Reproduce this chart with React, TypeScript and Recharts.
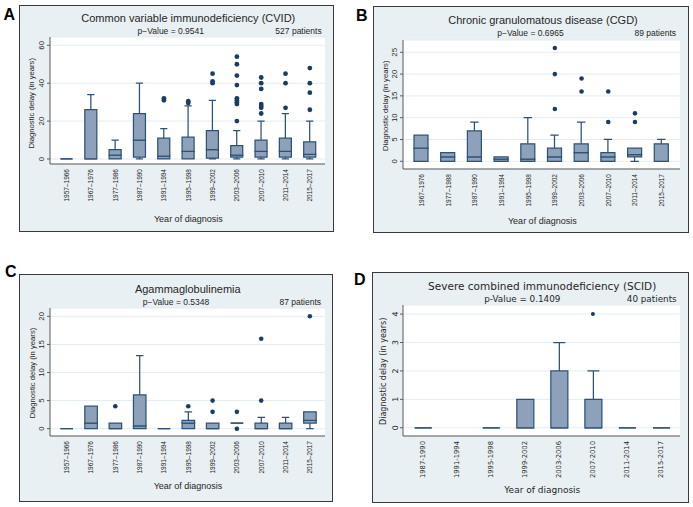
import React from 'react';
import { ComposedChart, Bar, Line, XAxis, YAxis, CartesianGrid } from 'recharts';

// ---------- Panel A: CVID ----------
const cvidCategories = ['1957–1966', '1967–1976', '1977–1986', '1987–1990', '1991–1994', '1995–1998', '1999–2002', '2003–2006', '2007–2010', '2011–2014', '2015–2017'];
const cvidLowWhisker = [0, 0, 0, 0, 0, 0, 0, 0, 0, 0, 0];
const cvidQ1 = [0, 0, 0, 1, 0, 0, 0.5, 1, 1, 1, 1];
const cvidMedian = [0, 0, 2, 10, 1.5, 4, 5, 2, 4, 4, 2.5];
const cvidQ3 = [0, 26, 5, 24, 11, 11.5, 15, 7, 10, 11, 9];
const cvidHighWhisker = [0, 34, 10, 40, 16, 28, 31, 15, 20, 24, 20];
const cvidOutliers = [[], [], [], [], [31, 32], [29.5, 30.5], [40, 41, 45], [20, 29, 30, 31, 32, 39, 44, 50, 54], [24, 27, 28, 29, 37, 40, 43], [27, 40, 45], [26, 35, 40, 48]];
const cvidTicks = [0, 20, 40, 60];

// ---------- Panel B: CGD ----------
const cgdCategories = ['1967–1976', '1977–1988', '1987–1990', '1991–1994', '1995–1998', '1999–2002', '2003–2006', '2007–2010', '2011–2014', '2015–2017'];
const cgdLowWhisker = [0, 0, 0, 0, 0, 0, 0, 0, 0, 0];
const cgdQ1 = [0, 0, 0, 0, 0, 0, 0, 0, 1, 0];
const cgdMedian = [3, 1, 1, 0.5, 0.5, 1, 2, 1, 1.5, 0];
const cgdQ3 = [6, 2, 7, 1, 4, 3, 4, 2, 3, 4];
const cgdHighWhisker = [6, 2, 9, 1, 10, 6, 9, 5, 3, 5];
const cgdOutliers = [[], [], [], [], [], [12, 20, 26], [16, 19], [9, 16], [9, 11], []];
const cgdTicks = [0, 5, 10, 15, 20, 25];

// ---------- Panel C: Agammaglobulinemia ----------
const agamCategories = ['1957–1966', '1967–1976', '1977–1986', '1987–1990', '1991–1994', '1995–1998', '1999–2002', '2003–2006', '2007–2010', '2011–2014', '2015–2017'];
const agamLowWhisker = [0, 0, 0, 0, 0, 0, 0, 1, 0, 0, 0];
const agamQ1 = [0, 0, 0, 0, 0, 0, 0, 1, 0, 0, 1];
const agamMedian = [0, 1, 0, 0.5, 0, 1, 0, 1, 0, 0, 1.5];
const agamQ3 = [0, 4, 1, 6, 0, 1.5, 1, 1, 1, 1, 3];
const agamHighWhisker = [0, 4, 1, 13, 0, 3, 1, 1, 2, 2, 3];
const agamOutliers = [[], [], [4], [], [], [4], [3, 5], [0, 3], [5, 16], [], [20]];
const agamTicks = [0, 5, 10, 15, 20];

// ---------- Panel D: SCID ----------
const scidCategories = ['1987-1990', '1991-1994', '1995-1998', '1999-2002', '2003-2006', '2007-2010', '2011-2014', '2015-2017'];
const scidLowWhisker = [0, null, 0, 0, 0, 0, 0, 0];
const scidQ1 = [0, null, 0, 0, 0, 0, 0, 0];
const scidMedian = [0, null, 0, 0, 0, 0, 0, 0];
const scidQ3 = [0, null, 0, 1, 2, 1, 0, 0];
const scidHighWhisker = [0, null, 0, 1, 3, 2, 0, 0];
const scidOutliers = [[], [], [], [], [], [4], [], []];
const scidTicks = [0, 1, 2, 3, 4];

const BOX_FILL = '#8da2ba';
const BOX_STROKE = '#2e5276';
const DOT_FILL = '#1b3d62';
const AXIS = '#5a5a5a';
const GRID = '#e4ecf1';
const FRAME_BG = '#e9f0f3';
const TEXT = '#262626';
const SANS = '"Liberation Sans", Arial, sans-serif';
const DEJAVU = '"DejaVu Sans", sans-serif';

function buildRows(cats: string[], lw: any[], q1: any[], med: any[], q3: any[], hw: any[], outs: number[][]) {
  return cats.map((cat, i) => {
    const has = q1[i] !== null && q1[i] !== undefined;
    const row: any = { cat, has };
    row.base = has ? lw[i] : 0;
    row.lw = has ? q1[i] - lw[i] : 0;
    row.lb = has ? med[i] - q1[i] : 0;
    row.ub = has ? q3[i] - med[i] : 0;
    row.uw = has ? hw[i] - q3[i] : 0;
    (outs[i] || []).forEach((v, k) => {
      row['o' + k] = v;
    });
    return row;
  });
}

const nullShape = () => <g />;

const boxShape = (props: any) => {
  const { x, y, width, height, payload } = props;
  if (!payload || !payload.has || typeof y !== 'number') return <g />;
  const h = Math.max(0, height || 0);
  const d = `M${x},${y}h${width}v${h}h${-width}Z`;
  return <path d={d} fill={BOX_FILL} stroke={BOX_STROKE} strokeWidth={1.25} />;
};

const makeLowWhisker = (capRatio: number) => (props: any) => {
  const { x, y, width, height, payload } = props;
  if (!payload || !payload.has || !(height > 0.3)) return <g />;
  const cx = x + width / 2;
  const cw = width * capRatio;
  return (
    <g>
      <line x1={cx} x2={cx} y1={y} y2={y + height} stroke={BOX_STROKE} strokeWidth={1.25} />
      <line x1={cx - cw / 2} x2={cx + cw / 2} y1={y + height} y2={y + height} stroke={BOX_STROKE} strokeWidth={1.25} />
    </g>
  );
};

const makeHighWhisker = (capRatio: number) => (props: any) => {
  const { x, y, width, height, payload } = props;
  if (!payload || !payload.has || !(height > 0.3)) return <g />;
  const cx = x + width / 2;
  const cw = width * capRatio;
  return (
    <g>
      <line x1={cx} x2={cx} y1={y} y2={y + height} stroke={BOX_STROKE} strokeWidth={1.25} />
      <line x1={cx - cw / 2} x2={cx + cw / 2} y1={y} y2={y} stroke={BOX_STROKE} strokeWidth={1.25} />
    </g>
  );
};

const makeDot = (r: number) => (props: any) => {
  const { cx, cy, index, dataKey } = props;
  const k = `${dataKey}-${index}`;
  if (typeof cy !== 'number' || isNaN(cy) || typeof cx !== 'number') return <g key={k} />;
  return <circle key={k} cx={cx} cy={cy} r={r} fill={DOT_FILL} stroke="none" />;
};

const makeXTick = (fontFamily: string, fontSize: number) => (props: any) => {
  const { x, y, payload } = props;
  const ty = y + 5;
  return (
    <text x={x} y={ty} transform={`rotate(-90 ${x} ${ty})`} textAnchor="end" dominantBaseline="central" fontSize={fontSize} fontFamily={fontFamily} fill={TEXT}>
      {payload.value}
    </text>
  );
};

const makeYTick = (fontFamily: string, fontSize: number, off: number) => (props: any) => {
  const { x, y, payload } = props;
  const tx = x - off;
  return (
    <text x={tx} y={y} transform={`rotate(-90 ${tx} ${y})`} textAnchor="middle" dominantBaseline="central" fontSize={fontSize} fontFamily={fontFamily} fill={TEXT}>
      {payload.value}
    </text>
  );
};

type PanelCfg = {
  left: number; top: number; width: number; height: number;
  mTop: number; mRight: number; yW: number; xH: number;
  domain: [number, number]; ticks: number[]; padL: number; padR: number;
  barSize: number; capRatio: number; dotR: number; rows: any[]; nOut: number;
  font: string; xFont: number; yFont: number; yOff: number;
};

function Panel({ c }: { c: PanelCfg }) {
  const lowW = makeLowWhisker(c.capRatio);
  const highW = makeHighWhisker(c.capRatio);
  const dot = makeDot(c.dotR);
  const outKeys = Array.from({ length: c.nOut }, (_, k) => 'o' + k);
  return (
    <div style={{ position: 'absolute', left: c.left, top: c.top, width: c.width, height: c.height, background: FRAME_BG, boxShadow: 'inset 0 0 0 1px #3a3a3a' }}>
      <ComposedChart width={c.width} height={c.height} data={c.rows} margin={{ top: c.mTop, right: c.mRight, bottom: 0, left: 0 }}>
        <CartesianGrid horizontal vertical={false} stroke={GRID} fill="#ffffff" />
        <XAxis dataKey="cat" type="category" interval={0} height={c.xH} padding={{ left: c.padL, right: c.padR }} tickLine={false} tickSize={0} tickMargin={0} axisLine={{ stroke: AXIS, strokeWidth: 1 }} tick={makeXTick(c.font, c.xFont)} allowDuplicatedCategory={false} />
        <YAxis type="number" domain={c.domain} ticks={c.ticks} interval={0} allowDataOverflow width={c.yW} tickSize={3} tickMargin={0} axisLine={{ stroke: AXIS, strokeWidth: 1 }} tickLine={{ stroke: AXIS }} tick={makeYTick(c.font, c.yFont, c.yOff)} />
        <Bar dataKey="base" stackId="s" barSize={c.barSize} shape={nullShape} isAnimationActive={false} />
        <Bar dataKey="lw" stackId="s" barSize={c.barSize} shape={lowW} isAnimationActive={false} />
        <Bar dataKey="lb" stackId="s" barSize={c.barSize} shape={boxShape} isAnimationActive={false} />
        <Bar dataKey="ub" stackId="s" barSize={c.barSize} shape={boxShape} isAnimationActive={false} />
        <Bar dataKey="uw" stackId="s" barSize={c.barSize} shape={highW} isAnimationActive={false} />
        {outKeys.map((k) => (
          <Line key={k} dataKey={k} stroke="none" dot={dot} activeDot={false} isAnimationActive={false} connectNulls={false} />
        ))}
      </ComposedChart>
    </div>
  );
}

const maxLen = (o: number[][]) => o.reduce((m, a) => Math.max(m, a.length), 0);

const panels: PanelCfg[] = [
  {
    left: 19, top: 5, width: 315, height: 227, mTop: 32, mRight: 9, yW: 31, xH: 68,
    domain: [-2.64, 64.38], ticks: cvidTicks, padL: 4.5, padR: 3, barSize: 12, capRatio: 0.6, dotR: 2.4,
    rows: buildRows(cvidCategories, cvidLowWhisker, cvidQ1, cvidMedian, cvidQ3, cvidHighWhisker, cvidOutliers),
    nOut: maxLen(cvidOutliers), font: SANS, xFont: 6.5, yFont: 7.8, yOff: 5.5,
  },
  {
    left: 373, top: 6, width: 316, height: 227, mTop: 34, mRight: 9, yW: 30, xH: 64,
    domain: [-1.77, 27.82], ticks: cgdTicks, padL: 5, padR: 5, barSize: 14, capRatio: 0.6, dotR: 2.3,
    rows: buildRows(cgdCategories, cgdLowWhisker, cgdQ1, cgdMedian, cgdQ3, cgdHighWhisker, cgdOutliers),
    nOut: maxLen(cgdOutliers), font: SANS, xFont: 6.5, yFont: 7.8, yOff: 5,
  },
  {
    left: 19, top: 274, width: 314, height: 228, mTop: 34, mRight: 8, yW: 31, xH: 66,
    domain: [-1.3, 21.48], ticks: agamTicks, padL: 4.5, padR: 3, barSize: 12.5, capRatio: 0.6, dotR: 2.3,
    rows: buildRows(agamCategories, agamLowWhisker, agamQ1, agamMedian, agamQ3, agamHighWhisker, agamOutliers),
    nOut: maxLen(agamOutliers), font: SANS, xFont: 6.5, yFont: 7.8, yOff: 5.5,
  },
  {
    left: 372, top: 272, width: 317, height: 231, mTop: 33, mRight: 9, yW: 31, xH: 67,
    domain: [-0.29, 4.32], ticks: scidTicks, padL: 2.7, padR: 2, barSize: 17, capRatio: 0.7, dotR: 2,
    rows: buildRows(scidCategories, scidLowWhisker, scidQ1, scidMedian, scidQ3, scidHighWhisker, scidOutliers),
    nOut: maxLen(scidOutliers), font: DEJAVU, xFont: 6.8, yFont: 7.8, yOff: 4.5,
  },
];

type Lbl = { t: string; x: number; y: number; size: number; font: string; anchor?: string; rot?: boolean; bold?: boolean };

const labels: Lbl[] = [
  { t: 'A', x: 9.2, y: 14.2, size: 16, font: SANS, bold: true },
  { t: 'Common variable immunodeficiency (CVID)', x: 188.3, y: 17.5, size: 11, font: SANS },
  { t: 'p−Value = 0.9541', x: 170.8, y: 31, size: 8.5, font: SANS },
  { t: '527 patients', x: 321.7, y: 31, size: 8.5, font: SANS, anchor: 'end' },
  { t: 'Diagnostic delay (in years)', x: 31.7, y: 103.3, size: 7.7, font: SANS, rot: true },
  { t: 'Year of diagnosis', x: 188.3, y: 218.5, size: 9, font: SANS },

  { t: 'B', x: 361.8, y: 15, size: 16, font: SANS, bold: true },
  { t: 'Chronic granulomatous disease (CGD)', x: 543, y: 20, size: 11, font: SANS },
  { t: 'p−Value = 0.6965', x: 530.5, y: 33.3, size: 8.5, font: SANS },
  { t: '89 patients', x: 676, y: 33.3, size: 8.5, font: SANS, anchor: 'end' },
  { t: 'Diagnostic delay (in years)', x: 385.3, y: 105.8, size: 7.7, font: SANS, rot: true },
  { t: 'Year of diagnosis', x: 542.3, y: 220.5, size: 9, font: SANS },

  { t: 'C', x: 10.8, y: 271, size: 16, font: SANS, bold: true },
  { t: 'Agammaglobulinemia', x: 187.8, y: 288.8, size: 11, font: SANS },
  { t: 'p−Value = 0.5348', x: 176, y: 302, size: 8.5, font: SANS },
  { t: '87 patients', x: 321, y: 302, size: 8.5, font: SANS, anchor: 'end' },
  { t: 'Diagnostic delay (in years)', x: 32.3, y: 373, size: 7.7, font: SANS, rot: true },
  { t: 'Year of diagnosis', x: 188, y: 486, size: 9, font: SANS },

  { t: 'D', x: 359.7, y: 279, size: 16, font: SANS, bold: true },
  { t: 'Severe combined immunodeficiency (SCID)', x: 542.2, y: 286.3, size: 10.5, font: DEJAVU },
  { t: 'p-Value = 0.1409', x: 522.3, y: 298.5, size: 8.8, font: DEJAVU },
  { t: '40 patients', x: 676.7, y: 298.5, size: 8.8, font: DEJAVU, anchor: 'end' },
  { t: 'Diagnostic delay (in years)', x: 383.7, y: 371.3, size: 8, font: DEJAVU, rot: true },
  { t: 'Year of diagnosis', x: 542.3, y: 490, size: 9, font: DEJAVU },
];

export default function App() {
  return (
    <div style={{ position: 'absolute', left: 0, top: 0, width: 693, height: 507, background: '#ffffff', overflow: 'hidden' }}>
      {panels.map((c, i) => (
        <Panel key={i} c={c} />
      ))}
      <svg width={693} height={507} style={{ position: 'absolute', left: 0, top: 0, pointerEvents: 'none' }}>
        {labels.map((l, i) => (
          <text
            key={i}
            x={l.x}
            y={l.y}
            textAnchor={(l.anchor as any) || 'middle'}
            dominantBaseline="central"
            fontSize={l.size}
            fontFamily={l.font}
            fontWeight={l.bold ? 700 : 400}
            fill={l.bold ? '#000' : TEXT}
            transform={l.rot ? `rotate(-90 ${l.x} ${l.y})` : undefined}
          >
            {l.t}
          </text>
        ))}
      </svg>
    </div>
  );
}
